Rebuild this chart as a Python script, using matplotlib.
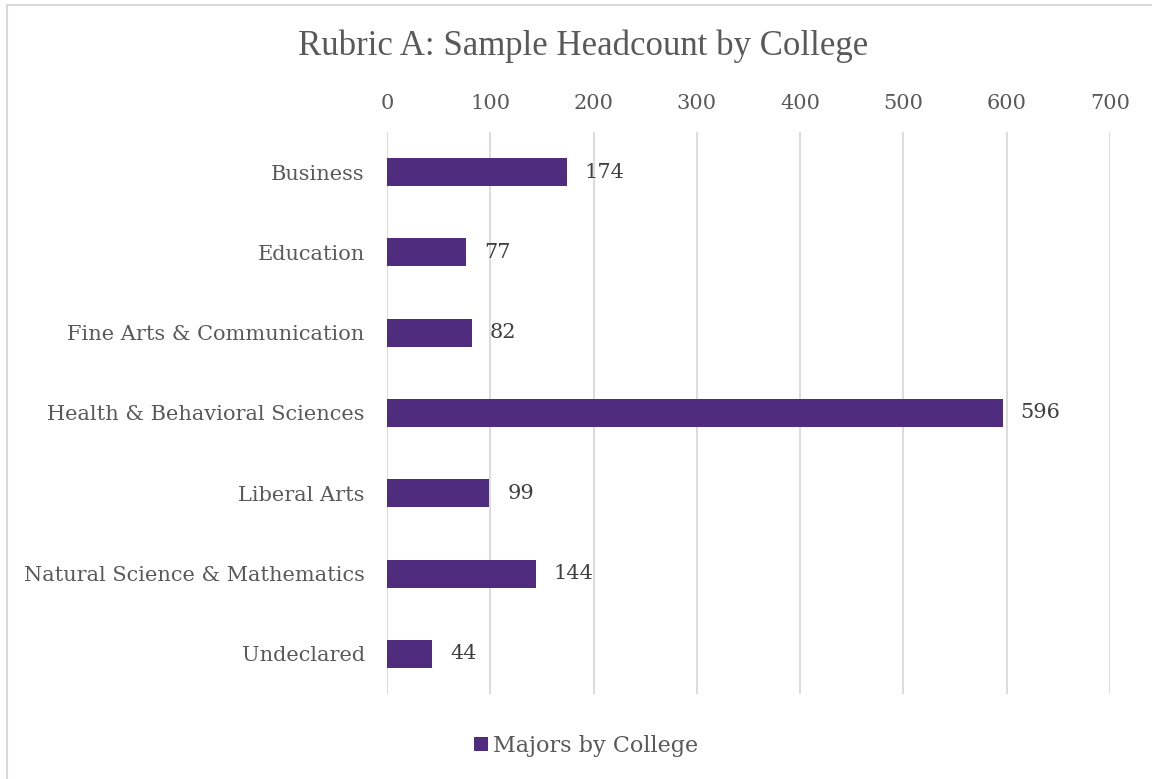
import matplotlib.pyplot as plt
from matplotlib.lines import Line2D
from matplotlib.patches import Patch

colleges = ["Business", "Education", "Fine Arts & Communication",
            "Health & Behavioral Sciences", "Liberal Arts",
            "Natural Science & Mathematics", "Undeclared"]
headcount = [174, 77, 82, 596, 99, 144, 44]
xticks = [0, 100, 200, 300, 400, 500, 600, 700]

bar_color = "#4F2C7E"
text_color = "#595959"
grid_color = "#D9D9D9"
label_font = "DejaVu Serif"

fig = plt.figure(figsize=(11.52, 7.79), dpi=100)
ax = fig.add_axes([0.3359, 0.1091, 0.6276, 0.7215])

ypos = list(range(len(colleges)))
ax.barh(ypos, headcount, height=0.35, color=bar_color, zorder=3)
ax.set_ylim(len(colleges) - 0.5, -0.5)
ax.set_xlim(0, 700)

ax.set_yticks(ypos)
ax.set_yticklabels(colleges, family=label_font, fontsize=15, color=text_color)
ax.set_xticks(xticks)
ax.set_xticklabels([str(v) for v in xticks], family=label_font, fontsize=15, color=text_color)
ax.xaxis.tick_top()
ax.tick_params(axis="x", length=0, pad=14)
ax.tick_params(axis="y", length=0, pad=16)
ax.grid(axis="x", color=grid_color, linewidth=1.3, zorder=0)
for s in ax.spines.values():
    s.set_visible(False)

for y, v in zip(ypos, headcount):
    ax.annotate(str(v), (v, y), xytext=(13, 0), textcoords="offset points",
                va="center", ha="left", family=label_font, fontsize=15, color="#404040")

fig.text(0.506, 0.94, "Rubric A: Sample Headcount by College", ha="center", va="center",
         family="Liberation Serif", fontsize=25, color=text_color)

handle = Patch(facecolor=bar_color)
fig.legend([handle], ["Majors by College"], loc="center", bbox_to_anchor=(0.509, 0.043),
           frameon=False, handlelength=0.6, handleheight=0.6, handletextpad=0.25,
           prop={"family": label_font, "size": 16}, labelcolor=text_color)

# thin frame along the top and left edges
fig.add_artist(Line2D([0.0058, 1.0], [0.9942, 0.9942], transform=fig.transFigure,
                      color=grid_color, linewidth=1.5))
fig.add_artist(Line2D([0.0058, 0.0058], [0.0, 0.9942], transform=fig.transFigure,
                      color=grid_color, linewidth=1.5))

fig.savefig("out.png", dpi=100, facecolor="white")
